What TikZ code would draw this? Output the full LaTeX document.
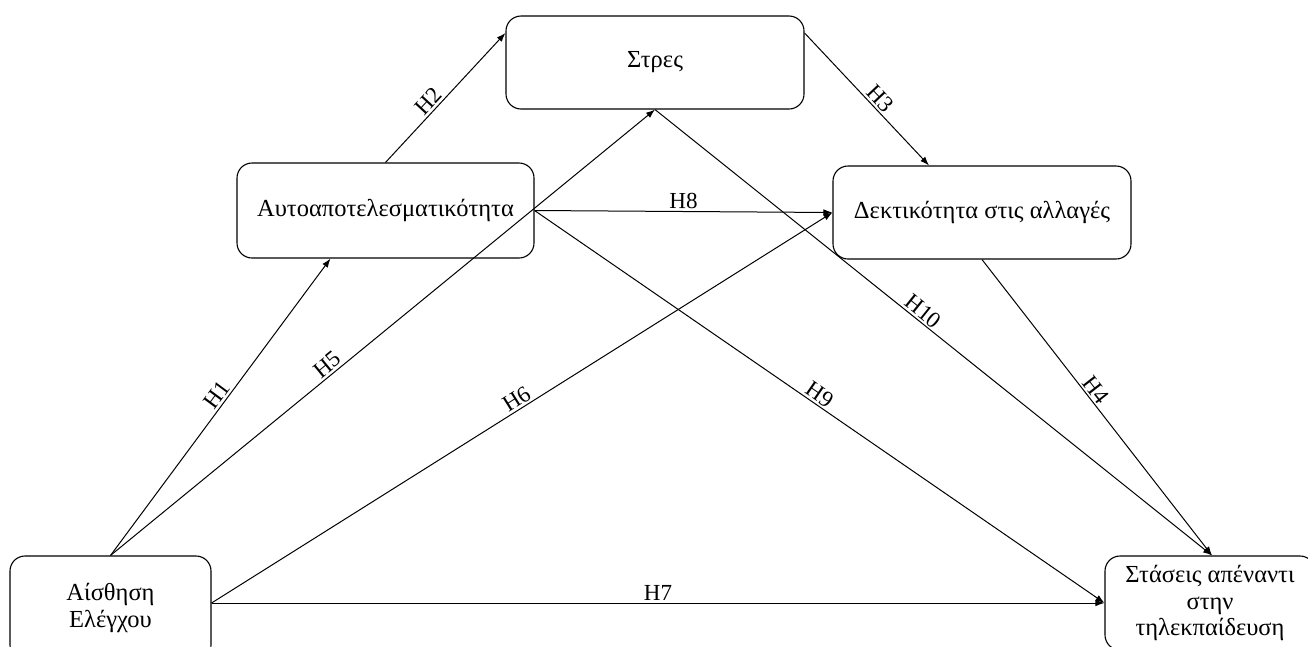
\documentclass[tikz,border=0pt]{standalone}
\usepackage{fontspec}
\setmainfont{Liberation Serif}
\usetikzlibrary{arrows.meta}
\begin{document}
\begin{tikzpicture}[x=1pt,y=-1pt,
  box/.style={draw, line width=1.1pt, rounded corners=15pt, inner sep=0pt, align=center,
    font=\fontsize{24.5}{26.5}\selectfont},
  arr/.style={draw, line width=1pt, -{Latex[length=9pt,width=6.5pt]}},
  lab/.style={above, sloped, inner sep=2pt, font=\fontsize{23}{25}\selectfont}]
\useasboundingbox (0,0) rectangle (1308,646);
\clip (0,0) rectangle (1308,646);
\node[box, minimum width=201pt, minimum height=104pt] (aisth) at (110.5,608) {Αίσθηση\\Ελέγχου};
\node[box, minimum width=210pt, minimum height=94pt] (stas) at (1210,603) {Στάσεις απέναντι\\στην\\τηλεκπαίδευση};
\node[box, minimum width=297pt, minimum height=95pt] (auto) at (385.5,210.5) {Αυτοαποτελεσματικότητα};
\node[box, minimum width=298pt, minimum height=93pt] (stres) at (655,62.5) {Στρες};
\node[box, minimum width=298pt, minimum height=93pt] (dekt) at (982,212.5) {Δεκτικότητα στις αλλαγές};
\coordinate (aisthR) at ([yshift=5pt]aisth.east);
\coordinate (autoB) at ([xshift=-55pt]auto.south);
\coordinate (stresL) at ([yshift=29.5pt]stres.west);
\coordinate (stresR) at ([yshift=29.5pt]stres.east);
\coordinate (dektT) at ([xshift=-53pt]dekt.north);
\coordinate (stasT) at ([xshift=2pt]stas.north);
\draw[arr] (aisth.north) -- node[lab, pos=0.52] {H1} (autoB);
\draw[arr] (aisth.north) -- node[lab, pos=0.41] {H5} (stres.south);
\draw[arr] (aisthR) -- node[lab, pos=0.5] {H6} (dekt.west);
\draw[arr] (aisthR) -- node[lab, pos=0.5] {H7} (stas.west);
\draw[arr] (auto.north) -- node[lab, pos=0.42] {H2} (stresL);
\draw[arr] (stresR) -- node[lab, pos=0.55] {H3} (dektT);
\draw[arr] (auto.east) -- node[lab, pos=0.5] {H8} (dekt.west);
\draw[arr] (auto.east) -- node[lab, pos=0.49] {H9} (stas.west);
\draw[arr] (stres.south) -- node[lab, pos=0.47] {H10} (stasT);
\draw[arr] (dekt.south) -- node[lab, pos=0.46] {H4} (stasT);
\end{tikzpicture}
\end{document}
